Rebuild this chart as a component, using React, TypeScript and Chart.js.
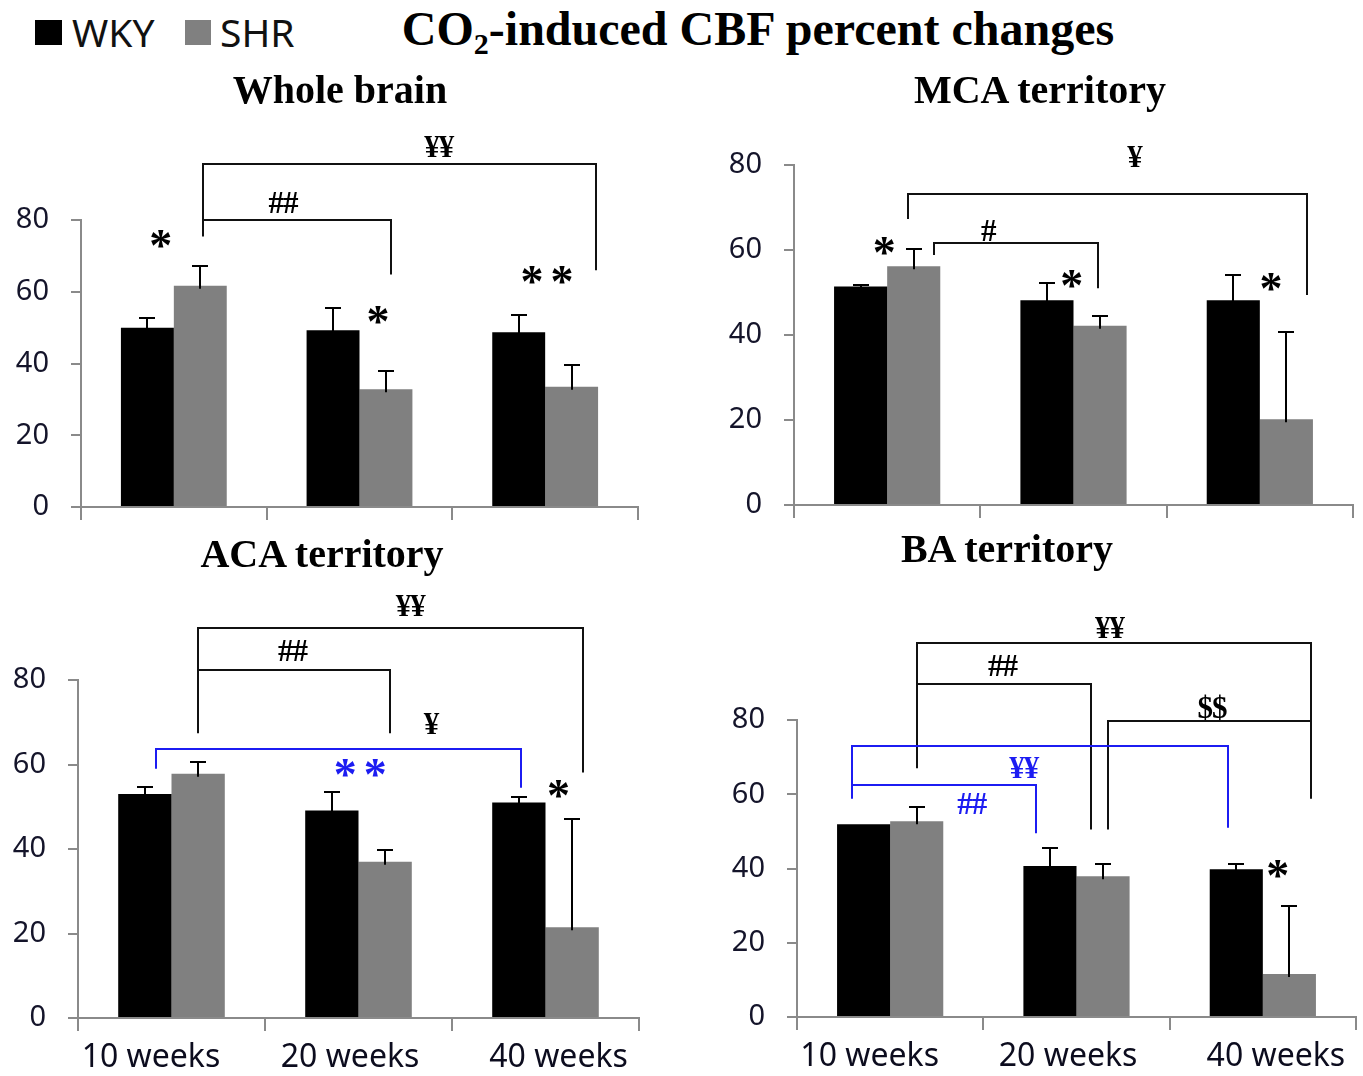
import React, { useEffect, useRef } from 'react';
import { Chart, registerables } from 'chart.js';

Chart.register(...registerables);

// ---------- data ----------
const CATEGORIES = ['10 weeks', '20 weeks', '40 weeks'];
const SERIES = ['WKY', 'SHR'];
const Y_TICKS = [0, 20, 40, 60, 80];

const WHOLE_WKY = [50.0, 49.3, 48.7];
const WHOLE_WKY_ERR = [2.8, 6.3, 4.9];
const WHOLE_SHR = [61.7, 32.8, 33.5];
const WHOLE_SHR_ERR = [5.6, 5.0, 6.2];

const MCA_WKY = [51.4, 48.2, 48.2];
const MCA_WKY_ERR = [0.4, 4.1, 5.9];
const MCA_SHR = [56.2, 42.2, 20.2];
const MCA_SHR_ERR = [4.0, 2.3, 20.6];

const ACA_WKY = [53.0, 49.1, 51.0];
const ACA_WKY_ERR = [1.7, 4.3, 1.2];
const ACA_SHR = [57.8, 37.0, 21.5];
const ACA_SHR_ERR = [2.9, 2.8, 25.6];

const BA_WKY = [51.9, 40.7, 39.8];
const BA_WKY_ERR = [0, 4.7, 1.3];
const BA_SHR = [52.7, 37.9, 11.6];
const BA_SHR_ERR = [4.0, 3.2, 18.2];

// significance brackets: [from (category units), to, level, left end, right end, colour]
const WHOLE_BRACKETS = [
  [0.155, 2.275, 95.5, 75.4, 66.0, 'k'],
  [0.155, 1.17, 80.0, 80.0, 64.8, 'k'],
];
const WHOLE_MARKS = [
  [1.43, 100.4, '¥¥', 'k'],
  [0.59, 84.8, '##', 'k'],
  [-0.07, 74.8, '*', 'k'],
  [1.1, 53.4, '*', 'k'],
  [2.01, 64.8, '**', 'k'],
];

const MCA_BRACKETS = [
  [0.113, 2.255, 73.2, 67.3, 49.4, 'k'],
  [0.25, 1.13, 61.6, 58.8, 51.0, 'k'],
];
const MCA_MARKS = [
  [1.33, 82.0, '¥', 'k'],
  [0.545, 64.5, '#', 'k'],
  [-0.015, 61.0, '*', 'k'],
  [0.99, 53.2, '*', 'k'],
  [2.06, 52.5, '*', 'k'],
];

const ACA_BRACKETS = [
  [0.14, 2.2, 92.3, 67.4, 58.1, 'k'],
  [0.14, 1.17, 82.3, 82.3, 67.4, 'k'],
  [-0.085, 1.87, 63.6, 59.0, 54.5, 'b'],
];
const ACA_MARKS = [
  [1.28, 97.7, '¥¥', 'k'],
  [0.65, 86.9, '##', 'k'],
  [1.39, 69.7, '¥', 'k'],
  [1.01, 59.2, '**', 'b'],
  [2.07, 54.2, '*', 'k'],
];

const BA_BRACKETS = [
  [0.142, 2.26, 100.7, 67.0, 58.8, 'k'],
  [0.142, 1.077, 89.8, 89.8, 50.5, 'k'],
  [1.168, 2.26, 79.6, 50.5, 79.6, 'k'],
  [-0.207, 1.814, 73.0, 58.8, 51.0, 'b'],
  [-0.2, 0.785, 62.4, 62.4, 49.5, 'b'],
];
const BA_MARKS = [
  [1.18, 105.0, '¥¥', 'k'],
  [0.605, 94.6, '##', 'k'],
  [1.73, 83.4, '$$', 'k'],
  [0.72, 67.3, '¥¥', 'b'],
  [0.44, 57.6, '##', 'b'],
  [2.08, 40.0, '*', 'k'],
];

// where the category captions sit, in category units
const X_LABEL_POS = [-0.11, 0.955, 2.07];

// ---------- styling ----------
const BLACK = '#000000';
const GREY = '#808080';
const BLUE = '#1c1cf2';
const AXIS = '#8a8a8a';
const TEXT = '#14142a';
const SANS = "'Noto Sans', 'DejaVu Sans', sans-serif";
const SERIF = "'Liberation Serif', 'DejaVu Serif', serif";

type Panel = {
  title: string;
  titleX: number;
  titleTop: number;
  left: number;
  top: number;
  width: number;
  height: number;
  area: { l: number; t: number; r: number; b: number };
  wky: number[];
  wkyErr: number[];
  shr: number[];
  shrErr: number[];
  brackets: any[];
  marks: any[];
  showX: boolean;
};

const PANELS: Panel[] = [
  {
    title: 'Whole brain', titleX: 340, titleTop: 70,
    left: 0, top: 100, width: 680, height: 465,
    area: { l: 81, t: 220, r: 638, b: 507 },
    wky: WHOLE_WKY, wkyErr: WHOLE_WKY_ERR, shr: WHOLE_SHR, shrErr: WHOLE_SHR_ERR,
    brackets: WHOLE_BRACKETS, marks: WHOLE_MARKS, showX: false,
  },
  {
    title: 'MCA territory', titleX: 1040, titleTop: 70,
    left: 680, top: 100, width: 683, height: 465,
    area: { l: 794, t: 165, r: 1353, b: 505 },
    wky: MCA_WKY, wkyErr: MCA_WKY_ERR, shr: MCA_SHR, shrErr: MCA_SHR_ERR,
    brackets: MCA_BRACKETS, marks: MCA_MARKS, showX: false,
  },
  {
    title: 'ACA territory', titleX: 322, titleTop: 534,
    left: 0, top: 575, width: 680, height: 501,
    area: { l: 78, t: 680, r: 639, b: 1018 },
    wky: ACA_WKY, wkyErr: ACA_WKY_ERR, shr: ACA_SHR, shrErr: ACA_SHR_ERR,
    brackets: ACA_BRACKETS, marks: ACA_MARKS, showX: true,
  },
  {
    title: 'BA territory', titleX: 1007, titleTop: 529,
    left: 680, top: 575, width: 683, height: 501,
    area: { l: 797, t: 720, r: 1356, b: 1017 },
    wky: BA_WKY, wkyErr: BA_WKY_ERR, shr: BA_SHR, shrErr: BA_SHR_ERR,
    brackets: BA_BRACKETS, marks: BA_MARKS, showX: true,
  },
];

function drawMark(ctx: CanvasRenderingContext2D, x: number, y: number, text: string, colour: string) {
  const star = text.indexOf('*') >= 0;
  ctx.fillStyle = colour === 'b' ? BLUE : BLACK;
  ctx.font = star ? `bold 46px ${SERIF}` : `bold 31px ${SERIF}`;
  const gap = star ? 7 : -1;
  const chars = Array.from(text);
  const widths = chars.map((c) => ctx.measureText(c).width);
  const total = widths.reduce((a, b) => a + b, 0) + gap * (chars.length - 1);
  const m = ctx.measureText(text);
  const cy = y + (m.actualBoundingBoxAscent - m.actualBoundingBoxDescent) / 2;
  let cx = x - total / 2;
  ctx.textAlign = 'left';
  ctx.textBaseline = 'alphabetic';
  chars.forEach((c, i) => {
    ctx.fillText(c, cx, cy);
    cx += widths[i] + gap;
  });
}

function makePlugin(p: Panel) {
  return {
    id: 'annotations',
    afterDatasetsDraw(chart: any) {
      const ctx: CanvasRenderingContext2D = chart.ctx;
      const ys = chart.scales.y;
      const xs = chart.scales.x;
      const c0 = xs.getPixelForValue(0);
      const c1 = xs.getPixelForValue(1);
      const ux = (u: number) => c0 + u * (c1 - c0);
      ctx.save();
      // error bars (upper only)
      [p.wkyErr, p.shrErr].forEach((errs, di) => {
        const meta = chart.getDatasetMeta(di);
        const vals = chart.data.datasets[di].data;
        meta.data.forEach((bar: any, i: number) => {
          const e = errs[i];
          if (!e) return;
          const yb = ys.getPixelForValue(vals[i]);
          const yt = Math.round(ys.getPixelForValue(vals[i] + e));
          const x = Math.round(bar.x);
          ctx.strokeStyle = BLACK;
          ctx.lineWidth = 2;
          ctx.beginPath();
          ctx.moveTo(x, yb + 3);
          ctx.lineTo(x, yt);
          ctx.moveTo(x - 8, yt);
          ctx.lineTo(x + 8, yt);
          ctx.stroke();
        });
      });
      // brackets
      p.brackets.forEach((b: any[]) => {
        const [u1, u2, lvl, e1, e2, col] = b;
        const x1 = Math.round(ux(u1));
        const x2 = Math.round(ux(u2));
        const y = Math.round(ys.getPixelForValue(lvl));
        ctx.strokeStyle = col === 'b' ? BLUE : '#111111';
        ctx.lineWidth = 2;
        ctx.beginPath();
        ctx.moveTo(x1, ys.getPixelForValue(e1));
        ctx.lineTo(x1, y);
        ctx.lineTo(x2, y);
        ctx.lineTo(x2, ys.getPixelForValue(e2));
        ctx.stroke();
      });
      // significance symbols
      p.marks.forEach((m: any[]) => {
        drawMark(ctx, ux(m[0]), ys.getPixelForValue(m[1]), m[2], m[3]);
      });
      // category captions (bottom row only)
      if (p.showX) {
        ctx.fillStyle = '#0c0c1e';
        ctx.font = `32px ${SANS}`;
        ctx.textAlign = 'center';
        ctx.textBaseline = 'alphabetic';
        const base = chart.chartArea.bottom + 49;
        CATEGORIES.forEach((c, i) => {
          ctx.fillText(c, ux(X_LABEL_POS[i]), base);
        });
      }
      ctx.restore();
    },
  };
}

function PanelChart({ p }: { p: Panel }) {
  const ref = useRef<HTMLCanvasElement>(null);
  useEffect(() => {
    if (!ref.current) return;
    const yWidth = p.area.l - p.left;
    const padTop = p.area.t - p.top;
    const padRight = p.left + p.width - p.area.r;
    const xHeight = p.top + p.height - p.area.b;
    const chart = new Chart(ref.current, {
      type: 'bar',
      data: {
        labels: CATEGORIES,
        datasets: [
          { label: SERIES[0], data: p.wky, backgroundColor: BLACK, borderWidth: 0, categoryPercentage: 0.57, barPercentage: 1.0 },
          { label: SERIES[1], data: p.shr, backgroundColor: GREY, borderWidth: 0, categoryPercentage: 0.57, barPercentage: 1.0 },
        ],
      },
      options: {
        responsive: false,
        animation: false,
        events: [],
        layout: { padding: { top: padTop, right: padRight, bottom: 0, left: 0 } },
        plugins: { legend: { display: false }, tooltip: { enabled: false }, title: { display: false } },
        scales: {
          x: {
            type: 'category',
            offset: true,
            grid: { offset: true, drawOnChartArea: false, drawTicks: true, tickLength: 13, color: AXIS, lineWidth: 2 },
            border: { display: true, color: AXIS, width: 2 },
            ticks: { display: false },
            afterFit: (s: any) => { s.height = xHeight; },
          },
          y: {
            min: 0,
            max: 80,
            afterBuildTicks: (s: any) => { s.ticks = Y_TICKS.map((v) => ({ value: v })); },
            grid: { drawOnChartArea: false, drawTicks: true, tickLength: 10, color: AXIS, lineWidth: 2 },
            border: { display: true, color: AXIS, width: 2 },
            ticks: { color: TEXT, font: { family: SANS, size: 29 }, padding: 22 },
            afterFit: (s: any) => { s.width = yWidth; },
          },
        },
      },
      plugins: [makePlugin(p)],
    } as any);
    return () => chart.destroy();
  }, [p]);
  return (
    <canvas
      ref={ref}
      width={p.width}
      height={p.height}
      style={{ position: 'absolute', left: p.left, top: p.top, width: p.width, height: p.height }}
    />
  );
}

export default function App() {
  return (
    <div
      style={{
        position: 'absolute', left: 0, top: 0, width: 1363, height: 1076,
        background: '#ffffff', overflow: 'hidden',
      }}
    >
      {PANELS.map((p, i) => (
        <PanelChart key={i} p={p} />
      ))}
      {/* legend */}
      <div style={{ position: 'absolute', left: 35, top: 20, width: 27, height: 25, background: BLACK }} />
      <div style={{ position: 'absolute', left: 72, top: 12, font: `39px/39px ${SANS}`, color: '#111', whiteSpace: 'nowrap' }}>
        {SERIES[0]}
      </div>
      <div style={{ position: 'absolute', left: 185, top: 20, width: 26, height: 25, background: GREY }} />
      <div style={{ position: 'absolute', left: 220, top: 12, font: `39px/39px ${SANS}`, color: '#111', whiteSpace: 'nowrap' }}>
        {SERIES[1]}
      </div>
      {/* main title */}
      <div
        style={{
          position: 'absolute', left: 758, top: 5, transform: 'translateX(-50%)',
          font: `bold 48px/48px ${SERIF}`, color: '#000', whiteSpace: 'nowrap',
        }}
      >
        CO<span style={{ fontSize: 30, position: 'relative', top: 9 }}>2</span>-induced CBF percent changes
      </div>
      {/* panel titles */}
      {PANELS.map((p, i) => (
        <div
          key={'t' + i}
          style={{
            position: 'absolute', left: p.titleX, top: p.titleTop, transform: 'translateX(-50%)',
            font: `bold 40px/40px ${SERIF}`, color: '#000', whiteSpace: 'nowrap',
          }}
        >
          {p.title}
        </div>
      ))}
    </div>
  );
}
